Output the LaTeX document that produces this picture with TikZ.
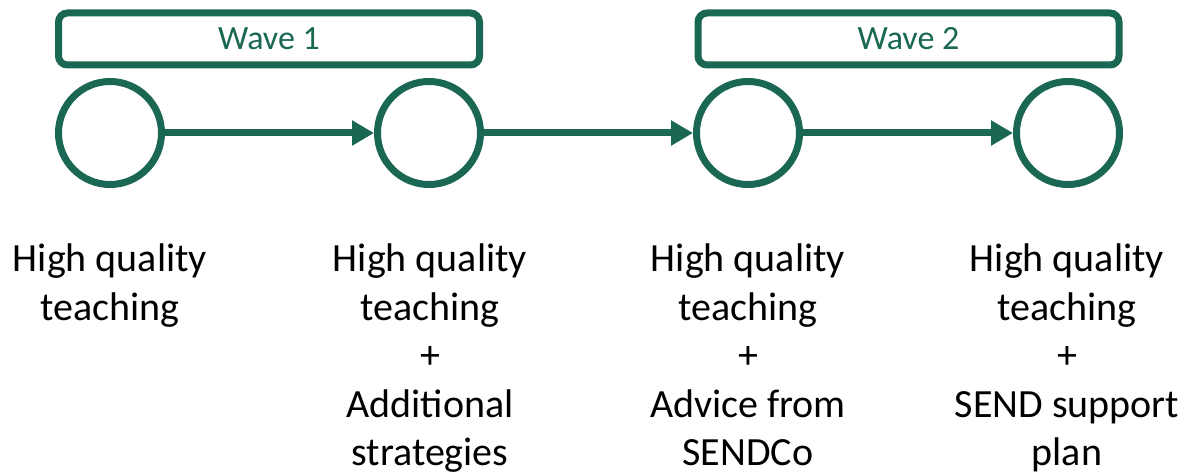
\documentclass[tikz,border=0pt]{standalone}
\usepackage{fontspec}
\setmainfont{Carlito}
\usetikzlibrary{arrows.meta}
\definecolor{wavegreen}{RGB}{26,104,84}
\tikzset{
  stagecircle/.style={circle, draw=wavegreen, line width=7pt, inner sep=0pt, minimum size=103pt},
  wavebox/.style={draw=wavegreen, line width=7pt, rounded corners=9pt, minimum width=421pt, minimum height=52pt, inner sep=0pt, text=wavegreen, font=\fontsize{34}{40}\selectfont},
  flow/.style={draw=wavegreen, line width=7pt, -{Triangle[length=22pt, width=24pt]}},
  caption/.style={anchor=north, align=center, inner sep=0pt, font=\fontsize{40}{48.5}\selectfont}
}
\begin{document}
\begin{tikzpicture}[x=1pt, y=1pt]
\path[use as bounding box] (0,0) rectangle (1191,-476);
\node[wavebox] (w1) at (269,-39) {Wave 1};
\node[wavebox] (w2) at (908.5,-39) {Wave 2};
\node[stagecircle] (c1) at (110,-133) {};
\node[stagecircle] (c2) at (429,-133) {};
\node[stagecircle] (c3) at (748,-133) {};
\node[stagecircle] (c4) at (1068,-133) {};
\draw[flow] (c1) -- (c2);
\draw[flow] (c2) -- (c3);
\draw[flow] (c3) -- (c4);
\node[caption] (t1) at (110,-244) {High quality\\teaching};
\node[caption] (t2) at (430,-244) {High quality\\teaching\\+\\Additional\\strategies};
\node[caption] (t3) at (748,-244) {High quality\\teaching\\+\\Advice from\\SENDCo};
\node[caption] (t4) at (1067,-244) {High quality\\teaching\\+\\SEND support\\plan};
\end{tikzpicture}
\end{document}
